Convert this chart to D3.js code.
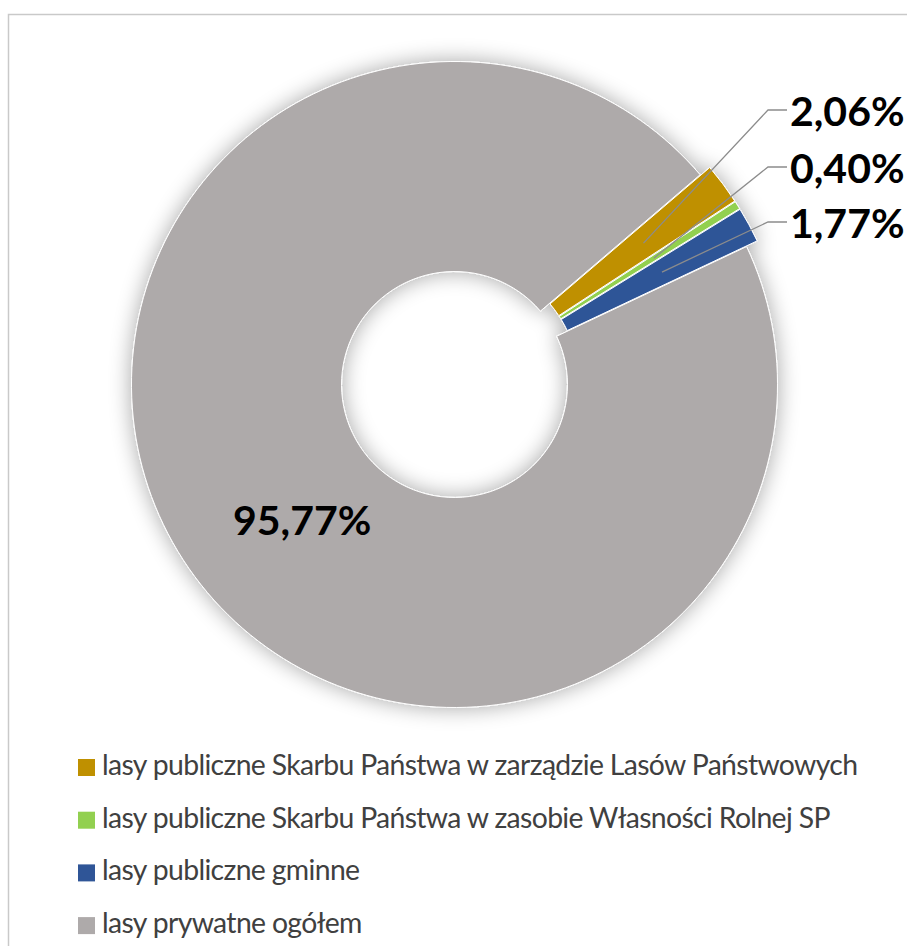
<!DOCTYPE html>
<html>
<head>
<meta charset="utf-8">
<script src="https://cdn.jsdelivr.net/npm/d3@7"></script>
<style>
  body { margin: 0; background: #fff; }
  svg { display: block; }
</style>
</head>
<body>
<svg id="chart" width="907" height="946"></svg>
<script>
// data
const categories = [
  "lasy publiczne Skarbu Państwa w zarządzie Lasów Państwowych",
  "lasy publiczne Skarbu Państwa w zasobie Własności Rolnej SP",
  "lasy publiczne gminne",
  "lasy prywatne ogółem"
];
const values = [2.06, 0.40, 1.77, 95.77];
const valueLabels = ["2,06%", "0,40%", "1,77%", "95,77%"];
const colors = ["#bf9000", "#92d050", "#2f5597", "#aeaaaa"];
const exploded = [true, true, true, false];

const svg = d3.select("#chart");
const cx = 454.5, cy = 384.5;
const outerR = 323, innerR = 113;
const explode = 12;
const startDeg = 49.5;

// frame (cropped on right and bottom)
svg.append("rect")
    .attr("x", 8.5).attr("y", 14.5)
    .attr("width", 960).attr("height", 1000)
    .attr("fill", "none")
    .attr("stroke", "#c9c9c9")
    .attr("stroke-width", 1.5);

// soft shadow round the ring
let defs = svg.append("defs");
let f = defs.append("filter").attr("id", "soft")
    .attr("x", "-20%").attr("y", "-20%").attr("width", "140%").attr("height", "140%");
f.append("feGaussianBlur").attr("in", "SourceAlpha").attr("stdDeviation", 11).attr("result", "b");
f.append("feComponentTransfer").attr("in", "b").attr("result", "s")
    .append("feFuncA").attr("type", "linear").attr("slope", 0.35);
let m = f.append("feMerge");
m.append("feMergeNode").attr("in", "s");
m.append("feMergeNode").attr("in", "SourceGraphic");

const pie = d3.pie().sort(null)
    .startAngle(startDeg * Math.PI / 180)
    .endAngle(startDeg * Math.PI / 180 + 2 * Math.PI);
const arcs = pie(values);

const arc = d3.arc().innerRadius(innerR).outerRadius(outerR);
const midArc = d3.arc().innerRadius((innerR + outerR) / 2 + 6).outerRadius((innerR + outerR) / 2 + 6);

function offset(d, i) {
    if (!exploded[i]) return [0, 0];
    let a = (d.startAngle + d.endAngle) / 2;
    return [Math.sin(a) * explode, -Math.cos(a) * explode];
}

let g = svg.append("g")
    .attr("transform", `translate(${cx},${cy})`);

g.append("g").attr("filter", "url(#soft)")
    .selectAll("path")
    .data(arcs)
    .enter()
    .append("path")
    .attr("d", arc)
    .attr("transform", (d, i) => { let o = offset(d, i); return `translate(${o[0]},${o[1]})`; })
    .attr("fill", (d, i) => colors[i])
    .attr("stroke", "#fff")
    .attr("stroke-width", 1);

// leader lines + labels for the small slices
const labelX = 790;           // text start, page coords
const elbowX = 768;
const labelBase = [126, 183, 238];

let small = arcs.slice(0, 3);
let leaders = svg.append("g");
small.forEach((d, i) => {
    let c = midArc.centroid(d);
    let o = offset(d, i);
    let sx = cx + c[0] + o[0], sy = cy + c[1] + o[1];
    let ly = labelBase[i] - 16;
    leaders.append("polyline")
        .attr("points", `${sx},${sy} ${elbowX},${ly} ${labelX - 3},${ly}`)
        .attr("fill", "none")
        .attr("stroke", "#8c8c8c")
        .attr("stroke-width", 1.3);
    leaders.append("text")
        .attr("x", labelX)
        .attr("y", labelBase[i])
        .attr("font-family", "Lato, 'Open Sans', sans-serif")
        .attr("font-weight", "bold")
        .attr("font-size", 41)
        .attr("fill", "#000")
        .text(valueLabels[i]);
});

// big slice label
svg.append("text")
    .attr("x", 233)
    .attr("y", 535)
    .attr("font-family", "Lato, 'Open Sans', sans-serif")
    .attr("font-weight", "bold")
    .attr("font-size", 41)
    .attr("fill", "#000")
    .text(valueLabels[3]);

// legend
let legend = svg.append("g").attr("transform", "translate(78,759)");
let rows = legend.selectAll("g")
    .data(categories)
    .enter()
    .append("g")
    .attr("transform", (d, i) => `translate(0,${i * 52.7})`);

rows.append("rect")
    .attr("width", 17).attr("height", 17)
    .attr("fill", (d, i) => colors[i]);

let legTexts = rows.append("text")
    .attr("x", 24)
    .attr("y", 16)
    .attr("font-family", "Lato, 'Open Sans', sans-serif")
    .attr("font-size", 24)
    .attr("fill", "#404040")
    .text(d => d);

// fit legend: a bit larger type, tightened so the longest row stays ~756px
let w0 = legTexts.node().getComputedTextLength();
let fs = 24 * 756 / w0 * 1.05;
legTexts.attr("font-size", fs);
let w1 = legTexts.node().getComputedTextLength();
let n = categories[0].length - 1;
legTexts.attr("letter-spacing", (756 - w1) / n);
</script>
</body>
</html>
